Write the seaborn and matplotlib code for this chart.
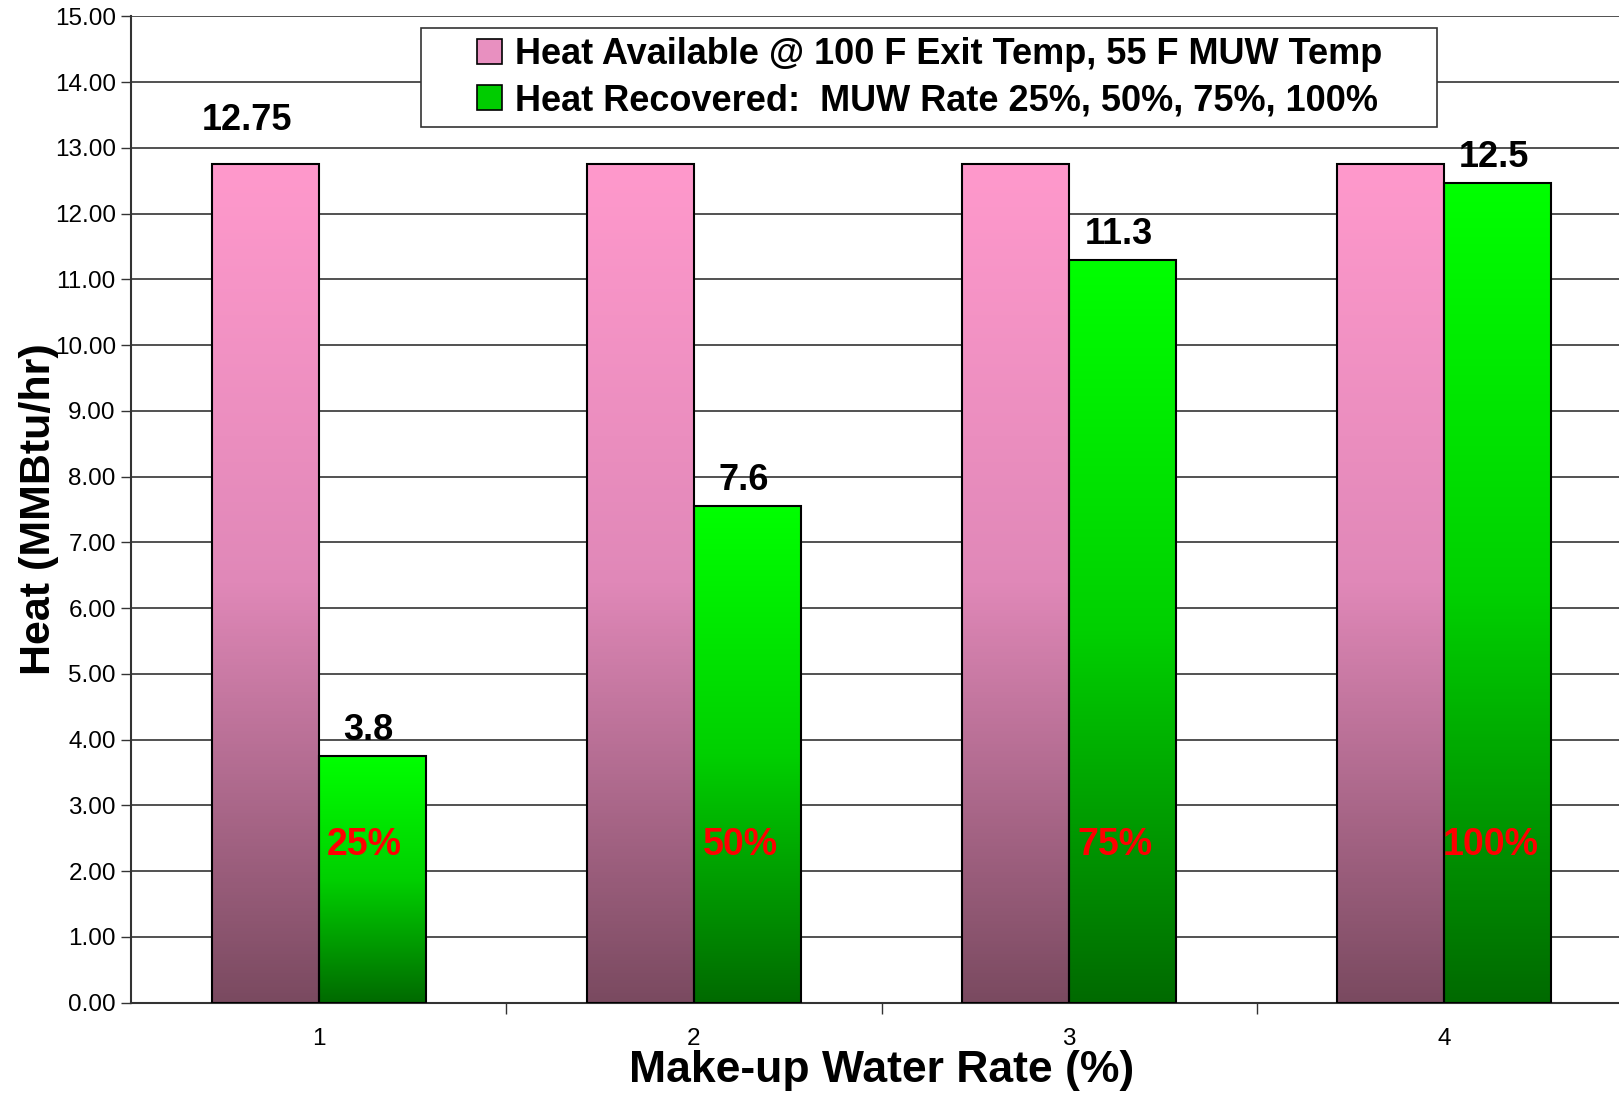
import numpy as np
import pandas as pd
import matplotlib
matplotlib.use("Agg")
import matplotlib.pyplot as plt
import seaborn as sns
from matplotlib.colors import LinearSegmentedColormap
from matplotlib.patches import Patch, Rectangle

# data
rates = ["1", "2", "3", "4"]
pct_labels = ["25%", "50%", "75%", "100%"]
heat_available = [12.75, 12.75, 12.75, 12.75]
heat_recovered = [3.75, 7.55, 11.3, 12.47]
recovered_labels = ["3.8", "7.6", "11.3", "12.5"]
available_label = "12.75"

series_names = ["Heat Available @ 100 F Exit Temp, 55 F MUW Temp",
                "Heat Recovered:  MUW Rate 25%, 50%, 75%, 100%"]

df = pd.DataFrame({
    "rate": rates * 2,
    "heat": heat_available + heat_recovered,
    "series": [series_names[0]] * 4 + [series_names[1]] * 4,
})

sns.set_style("white")
plt.rcParams["font.family"] = ["Liberation Sans", "DejaVu Sans"]
plt.rcParams["text.color"] = "black"
plt.rcParams["axes.labelcolor"] = "black"
plt.rcParams["xtick.color"] = "black"
plt.rcParams["ytick.color"] = "black"

fig = plt.figure(figsize=(16.19, 10.97), dpi=100)
ax = fig.add_axes([0.081, 0.086, 0.927, 0.899])

sns.barplot(data=df, x="rate", y="heat", hue="series", order=rates,
            hue_order=series_names, width=0.57, ax=ax,
            palette=["#ff99cc", "#00ff00"], edgecolor="black", linewidth=1.5,
            legend=False, errorbar=None)

pink_cmap = LinearSegmentedColormap.from_list("pink", ["#ff99cc", "#e088b8", "#7a4a60"])
green_cmap = LinearSegmentedColormap.from_list("green", ["#00ff00", "#00d000", "#006a00"])

grad = np.linspace(0, 1, 256).reshape(-1, 1)
bars = [p for p in ax.patches if p.get_height() > 0]
for i, p in enumerate(bars):
    cmap = pink_cmap if i < 4 else green_cmap
    x0, y0 = p.get_x(), p.get_y()
    w, h = p.get_width(), p.get_height()
    im = ax.imshow(grad, cmap=cmap, aspect="auto", extent=[x0, x0 + w, y0, y0 + h],
                   origin="upper", zorder=2)
    im.set_clip_path(p)
    p.set_facecolor("none")
    p.set_zorder(3)

ax.set_xlim(-0.5, 3.5)
ax.set_ylim(0, 15)
ax.set_yticks(np.arange(0, 15.01, 1))
ax.set_yticklabels([f"{v:.2f}" for v in np.arange(0, 15.01, 1)], fontsize=17.5)
ax.grid(axis="y", color="#222222", linewidth=1.1)
ax.set_axisbelow(True)

# x ticks at category boundaries, labels at centres
ax.set_xticks([0.5, 1.5, 2.5])
ax.set_xticklabels([])
ax.set_xticks(range(4), minor=True)
ax.set_xticklabels(rates, minor=True, fontsize=17.5)
ax.tick_params(axis="x", which="major", length=8, width=1, color="#333333", direction="out", bottom=True)
ax.tick_params(axis="x", which="minor", length=0, pad=18)
ax.tick_params(axis="y", length=7, width=1, color="#333333", direction="out", left=True, pad=4)

for side in ["top", "right"]:
    ax.spines[side].set_visible(False)
for side in ["left", "bottom"]:
    ax.spines[side].set_color("#333333")
    ax.spines[side].set_linewidth(1.5)

ax.set_xlabel("Make-up Water Rate (%)", fontsize=32, fontweight="bold", labelpad=0)
ax.set_ylabel("Heat (MMBtu/hr)", fontsize=31, fontweight="bold", labelpad=-3)

# value labels
green_bars = bars[4:]
for p, lab, pl in zip(green_bars, recovered_labels, pct_labels):
    cx = p.get_x() + p.get_width() / 2
    ax.text(cx - 0.01, p.get_height() + 0.12, lab, ha="center", va="bottom",
            fontsize=26, fontweight="bold", zorder=5)
    ax.text(cx - 0.02, 2.4, pl, ha="center", va="center", color="red",
            fontsize=27, fontweight="bold", zorder=5)

p0 = bars[0]
ax.text(p0.get_x() + p0.get_width() / 2 - 0.05, p0.get_height() + 0.4, available_label,
        ha="center", va="bottom", fontsize=26, fontweight="bold", zorder=5)

# legend box (wider than the default legend frame)
fig.patches.append(Rectangle((408 / 1568, 1 - 123 / 1062), 984 / 1568, 96 / 1062,
                             transform=fig.transFigure, facecolor="white",
                             edgecolor="#333333", linewidth=1.2, zorder=4))

handles = [Patch(facecolor="#e890c0", edgecolor="black", linewidth=1.2),
           Patch(facecolor="#00cc00", edgecolor="black", linewidth=1.2)]
leg = fig.legend(handles, series_names, loc="center", bbox_to_anchor=(0.574, 0.929),
                 bbox_transform=fig.transFigure, frameon=False,
                 prop={"size": 26, "weight": "bold"}, handlelength=0.7, handleheight=0.7,
                 handletextpad=0.35, borderpad=0.3, labelspacing=0.3, borderaxespad=0)
leg.set_zorder(5)

fig.savefig("out.png", dpi=100)
